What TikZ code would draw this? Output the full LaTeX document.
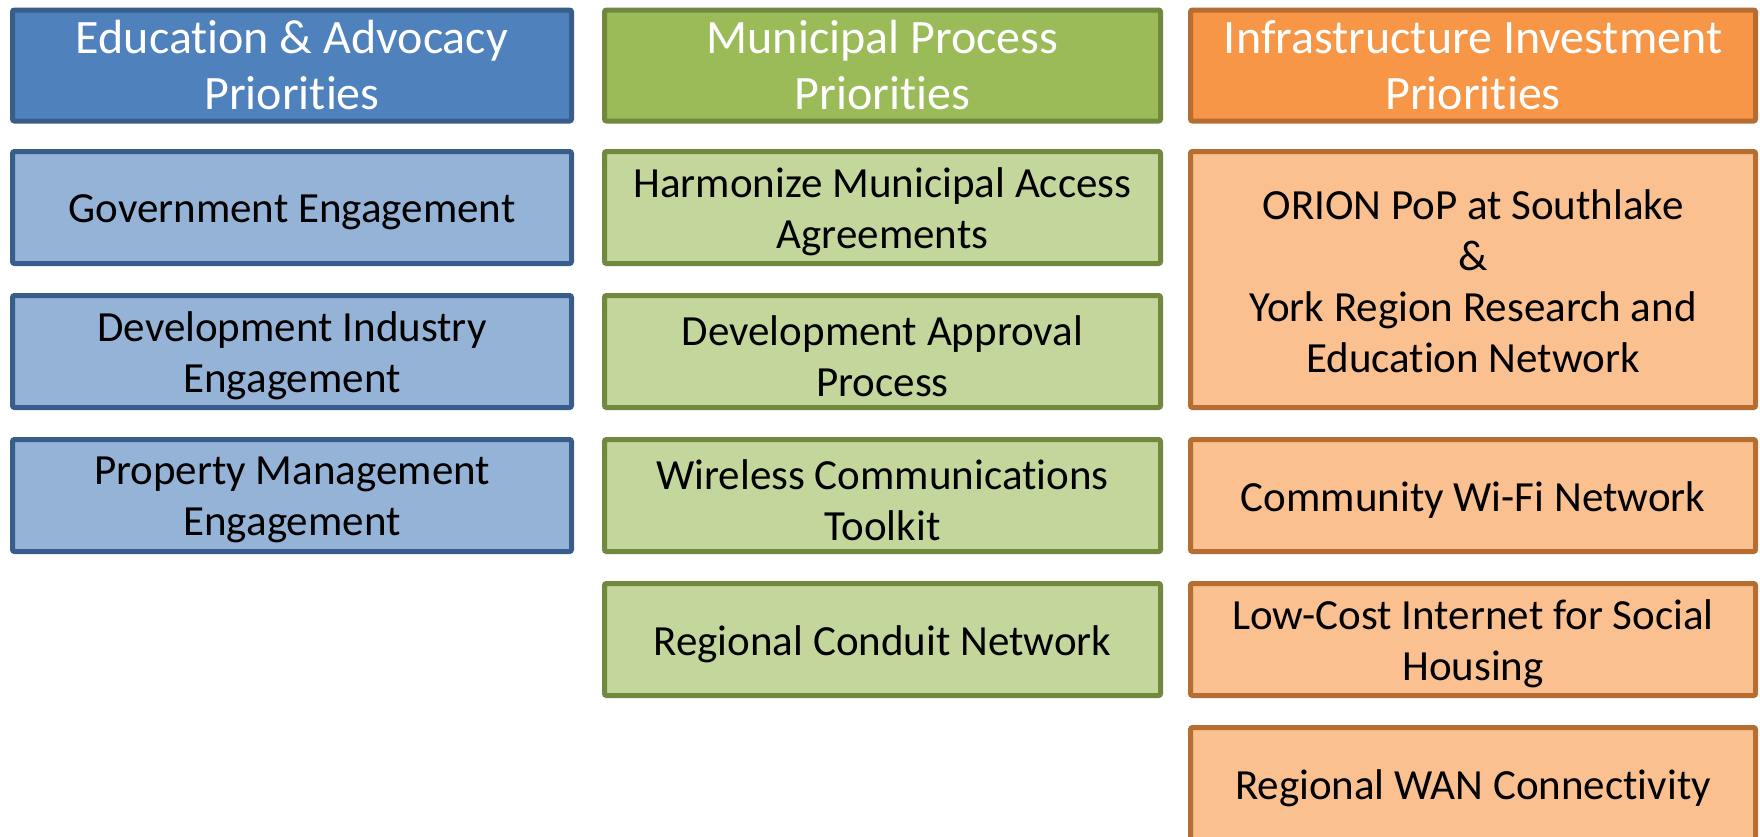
\documentclass[tikz,border=0pt]{standalone}
\usepackage{fontspec}
\setmainfont{Carlito}[Ligatures=NoCommon]
\definecolor{bhead}{HTML}{4F81BD}
\definecolor{bline}{HTML}{385D8A}
\definecolor{blight}{HTML}{95B3D7}
\definecolor{ghead}{HTML}{9BBB59}
\definecolor{gline}{HTML}{71893F}
\definecolor{glight}{HTML}{C3D69B}
\definecolor{ohead}{HTML}{F79646}
\definecolor{oline}{HTML}{B66D31}
\definecolor{olight}{HTML}{FAC090}
\tikzset{
  box/.style={draw, line width=5pt, rounded corners=2pt, inner sep=0pt, align=center},
  head/.style={box, font=\fontsize{48}{56}\selectfont, text=white, minimum height=111pt},
  item/.style={box, minimum height=112pt},
  txt/.style={inner sep=0pt, align=center, font=\fontsize{43}{51}\selectfont, text=black},
  bcol/.style={minimum width=559pt},
  gcol/.style={minimum width=556pt},
  ocol/.style={minimum width=565pt},
  bh/.style={head, bcol, fill=bhead, draw=bline},
  gh/.style={head, gcol, fill=ghead, draw=gline},
  oh/.style={head, ocol, fill=ohead, draw=oline},
  bi/.style={item, bcol, fill=blight, draw=bline},
  gi/.style={item, gcol, fill=glight, draw=gline},
  oi/.style={item, ocol, fill=olight, draw=oline},
}
\begin{document}
\begin{tikzpicture}[x=1pt, y=-1pt]
\useasboundingbox (0,0) rectangle (1760,836);
\clip (0,0) rectangle (1760,836);
% headers
\node[bh] (h1) at (292,65.5) {Education \& Advocacy\\Priorities};
\node[gh] (h2) at (882.5,65.5) {Municipal Process\\Priorities};
\node[oh] (h3) at (1473,65.5) {Infrastructure Investment\\Priorities};
% blue column
\node[bi] (b1) at (292,207.5) {};
\node[bi] (b2) at (292,351.5) {};
\node[bi] (b3) at (292,495.5) {};
% green column
\node[gi] (g1) at (882.5,207.5) {};
\node[gi] (g2) at (882.5,351.5) {};
\node[gi] (g3) at (882.5,495.5) {};
\node[gi] (g4) at (882.5,639.5) {};
% orange column
\node[oi, minimum height=256pt] (o1) at (1473,279.5) {};
\node[oi] (o2) at (1473,495.5) {};
\node[oi] (o3) at (1473,639.5) {};
\node[oi] (o4) at (1473,783.5) {};
% texts
\node[txt] (b1t) at ([yshift=-4.5pt]b1.center) {Government Engagement};
\node[txt] (b2t) at ([yshift=-4.5pt]b2.center) {Development Industry\\Engagement};
\node[txt] (b3t) at ([yshift=-4.5pt]b3.center) {Property Management\\Engagement};
\node[txt] (g1t) at ([yshift=-4.5pt]g1.center) {Harmonize Municipal Access\\Agreements};
\node[txt] (g2t) at ([yshift=-4.5pt]g2.center) {Development Approval\\Process};
\node[txt] (g3t) at ([yshift=-4.5pt]g3.center) {Wireless Communications\\Toolkit};
\node[txt] (g4t) at ([yshift=-4.5pt]g4.center) {Regional Conduit Network};
\node[txt] (o1t) at ([yshift=-1.5pt]o1.center) {ORION PoP at Southlake\\\&\\York Region Research and\\Education Network};
\node[txt] (o2t) at ([yshift=-4.5pt]o2.center) {Community Wi-Fi Network};
\node[txt] (o3t) at ([yshift=-4.5pt]o3.center) {Low-Cost Internet for Social\\Housing};
\node[txt] (o4t) at ([yshift=-4.5pt]o4.center) {Regional WAN Connectivity};
\end{tikzpicture}
\end{document}
